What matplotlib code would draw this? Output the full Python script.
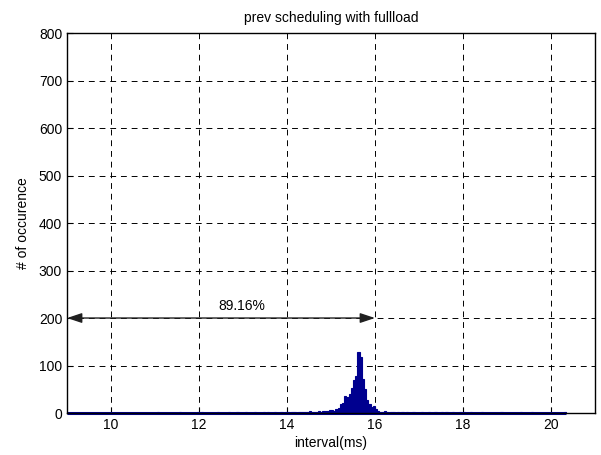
import matplotlib.pyplot as plt
import numpy as np

plt.rcParams['font.family'] = ['Liberation Sans', 'DejaVu Sans']

# histogram of intervals, 0.05 ms bins starting at 9.0 ms
bin_start = 9.0
bin_width = 0.05
counts = [
    0, 0, 0, 0, 0, 0, 0, 0, 0, 0, 0, 0, 0, 0, 0, 0, 1, 0, 0, 0,          # 9-10
    0, 0, 0, 0, 0, 0, 0, 0, 0, 0, 0, 0, 0, 0, 0, 0, 0, 0, 0, 0,          # 10-11
    0, 2, 0, 0, 0, 0, 0, 0, 0, 0, 1, 2, 0, 1, 0, 0, 1, 0, 1, 2,          # 11-12
    1, 2, 0, 1, 0, 1, 1, 0, 2, 0, 1, 0, 1, 2, 0, 1, 0, 2, 1, 0,          # 12-13
    1, 2, 1, 0, 1, 2, 1, 1, 0, 2, 1, 2, 1, 1, 2, 0, 1, 2, 1, 2,          # 13-14
    2, 1, 3, 2, 1, 2, 3, 2, 3, 2, 4, 3, 2, 3, 4, 3, 5, 4, 5, 6,          # 14-15
    6, 5, 8, 10, 18, 22, 35, 33, 40, 52, 70, 78, 128, 118, 72, 50, 28, 18, 12, 14,  # 15-16
    8, 5, 3, 2, 4, 2, 1, 2, 3, 1, 2, 1, 2, 1, 2, 1, 1, 2, 1, 1,          # 16-17
    1, 2, 1, 1, 2, 1, 1, 2, 1, 1, 2, 1, 2, 1, 1, 2, 1, 1, 2, 1,          # 17-18
    2, 1, 1, 2, 1, 1, 0, 1, 2, 1, 1, 0, 1, 1, 0, 1, 1, 2, 1, 0,          # 18-19
    1, 1, 0, 1, 0, 1, 2, 1, 1, 0, 1, 2, 1, 0, 1, 1, 0, 1, 0, 1,          # 19-20
    0, 1, 0, 0, 0, 1, 2,                                                 # 20-20.35
]

x_ticks = [10, 12, 14, 16, 18, 20]
y_ticks = [0, 100, 200, 300, 400, 500, 600, 700, 800]

arrow_from = 9
arrow_to = 16
arrow_y = 200
pct_label = '89.16%'

bar_color = '#00008f'

fig = plt.figure(figsize=(6.01, 4.55), dpi=100)
ax = fig.add_axes([0.1115, 0.0923, 0.8785, 0.835])

lefts = bin_start + bin_width * np.arange(len(counts))
ax.bar(lefts, counts, width=bin_width, align='edge', color=bar_color,
       edgecolor=bar_color, linewidth=0.8, zorder=2)
# zero-height bins still show up as a flat line in the original
ax.hlines(0, lefts[0], lefts[-1] + bin_width, color=bar_color, linewidth=2.2,
          zorder=2, clip_on=False)

ax.set_xlim(9, 21)
ax.set_ylim(0, 800)
ax.set_xticks(x_ticks)
ax.set_yticks(y_ticks)
ax.tick_params(direction='in', length=4, labelsize=10, colors='black')
ax.grid(True, color='black', linestyle=(0, (6, 5)), linewidth=0.7, zorder=1)
ax.set_axisbelow(True)
for s in ax.spines.values():
    s.set_linewidth(1.0)

ax.annotate('', xy=(arrow_to, arrow_y), xytext=(arrow_from, arrow_y),
            arrowprops=dict(arrowstyle='<|-|>,head_length=0.9,head_width=0.3',
                            color='#202020', lw=1.0, shrinkA=0, shrinkB=0),
            zorder=3)
ax.text(12.98, 225, pct_label, ha='center', va='center', fontsize=10)

ax.set_title('prev scheduling with fullload', fontsize=10, pad=8)
ax.set_xlabel('interval(ms)', fontsize=10, labelpad=3)
ax.set_ylabel('# of occurence', fontsize=10, labelpad=6)

fig.savefig('out.png', dpi=100)
